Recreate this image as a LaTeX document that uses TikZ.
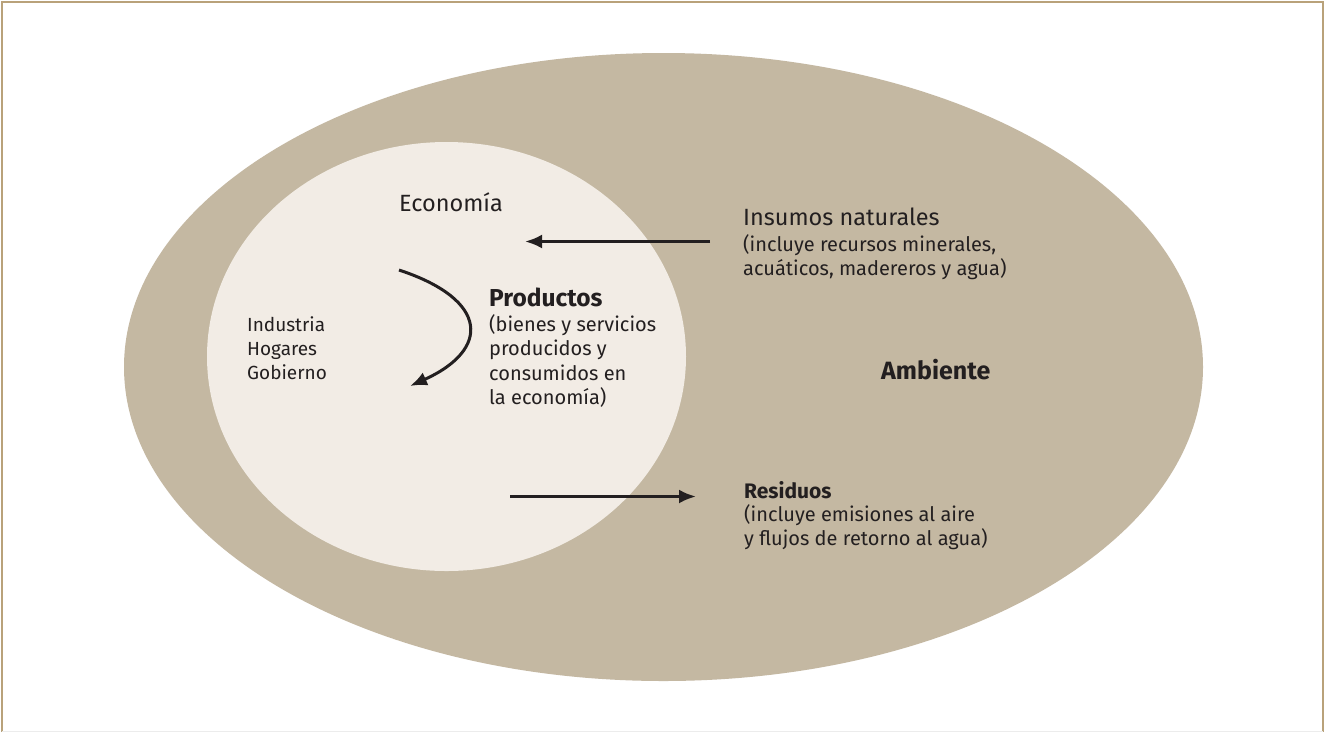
\documentclass[tikz,border=0pt]{standalone}
\usepackage{fontspec}
\setmainfont{Fira Sans}
\usetikzlibrary{arrows.meta}
\definecolor{outerc}{HTML}{C4B8A2}
\definecolor{innerc}{HTML}{F2ECE5}
\definecolor{framec}{HTML}{B9A27A}
\definecolor{txt}{HTML}{231F20}
\tikzset{
  lbl/.style={anchor=north west, align=left, inner sep=0pt, text=txt, font=\fontsize{20}{24.6}\selectfont},
  flow/.style={line width=3pt, draw=txt, -{Latex[length=17pt,width=14pt]}},
}
\begin{document}
\begin{tikzpicture}[x=1pt,y=-1pt]
\useasboundingbox (0,0) rectangle (1325,732);
\fill[white] (0,0) rectangle (1325,732);
\draw[framec, line width=2pt] (2,732) -- (2,2) -- (1323,2) -- (1323,732);
\draw[gray!15, line width=1pt] (2,731) -- (1323,731);
\fill[outerc] (663.5,367) ellipse [x radius=539.5, y radius=314];
\fill[innerc] (446.5,356.5) ellipse [x radius=239.5, y radius=214.5];

\node[lbl, font=\fontsize{23.5}{24}\selectfont] (econ) at (399,192) {Economía};
\node[lbl, font=\fontsize{23.5}{24}\selectfont] (ins) at (743,208) {Insumos naturales};
\node[lbl] (insd) at (743,234) {(incluye recursos minerales,\\acuáticos, madereros y agua)};
\node[lbl, font=\fontsize{24.5}{24}\selectfont\bfseries] (prod) at (489,288) {Productos};
\node[lbl] (prodd) at (489,314) {(bienes y servicios\\producidos y\\consumidos en\\la economía)};
\node[lbl, font=\fontsize{19}{24.2}\selectfont] (agents) at (247,316) {Industria\\Hogares\\Gobierno};
\node[lbl, font=\fontsize{25}{24}\selectfont\bfseries] (amb) at (881,359) {Ambiente};
\node[lbl, font=\fontsize{21}{24}\selectfont\bfseries] (res) at (744,481) {Residuos};
\node[lbl] (resd) at (744,504) {(incluye emisiones al aire\\y flujos de retorno al agua)};

\coordinate (insA) at (710,241.5);
\coordinate (insB) at (525,241.5);
\coordinate (resA) at (510,496.5);
\coordinate (resB) at (696,496.5);
\coordinate (cA) at (399,270);
\coordinate (cB) at (410,386);
\draw[flow] (insA) -- (insB);
\draw[flow] (resA) -- (resB);
\draw[flow] (cA) .. controls (490,300) and (490,350) .. (cB);
\end{tikzpicture}
\end{document}
